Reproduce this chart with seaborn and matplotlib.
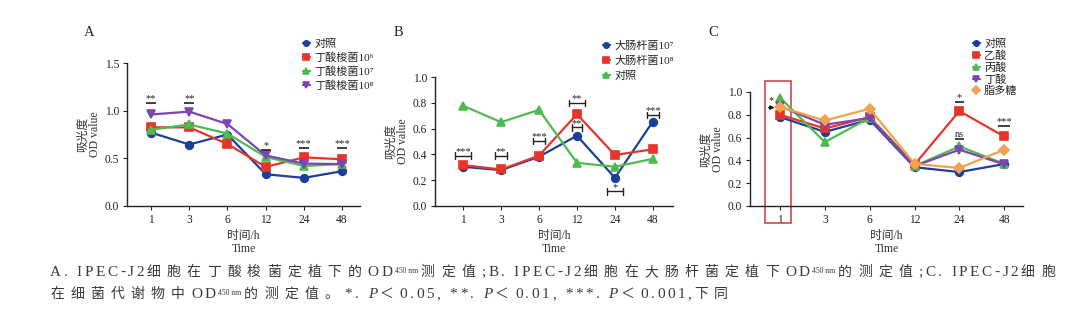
import numpy as np
import pandas as pd
import matplotlib
matplotlib.use("Agg")
import matplotlib.pyplot as plt
import seaborn as sns
from matplotlib.patches import Rectangle
from matplotlib.transforms import IdentityTransform

sns.set_theme(style="ticks")
FAM = ["Liberation Serif", "Noto Sans CJK SC", "DejaVu Serif"]
plt.rcParams["font.family"] = FAM
plt.rcParams["axes.unicode_minus"] = False

# ---------------- data ----------------
times = ["1", "3", "6", "12", "24", "48"]

a_groups = ["对照", "丁酸梭菌10⁶", "丁酸梭菌10⁷", "丁酸梭菌10⁸"]
a_ctrl = [0.77, 0.645, 0.75, 0.333, 0.295, 0.365]
a_cb6 = [0.825, 0.825, 0.65, 0.41, 0.51, 0.49]
a_cb7 = [0.80, 0.855, 0.76, 0.515, 0.42, 0.44]
a_cb8 = [0.96, 0.99, 0.86, 0.53, 0.445, 0.44]

b_groups = ["大肠杆菌10⁷", "大肠杆菌10⁸", "对照"]
b_ec7 = [0.304, 0.278, 0.382, 0.545, 0.218, 0.655]
b_ec8 = [0.317, 0.283, 0.39, 0.712, 0.395, 0.44]
b_ctrl = [0.777, 0.65, 0.745, 0.335, 0.304, 0.366]

c_groups = ["对照", "乙酸", "丙酸", "丁酸", "脂多糖"]
c_ctrl = [0.78, 0.65, 0.757, 0.34, 0.298, 0.368]
c_ace = [0.80, 0.68, 0.78, 0.363, 0.833, 0.61]
c_pro = [0.95, 0.56, 0.775, 0.35, 0.523, 0.37]
c_but = [0.874, 0.713, 0.772, 0.35, 0.494, 0.365]
c_lps = [0.868, 0.75, 0.853, 0.37, 0.333, 0.494]

# significance marks: (time index, label, y of bar[, half width])
a_sig = [(0, "**", 1.08), (1, "**", 1.08), (3, "*", 0.59), (4, "***", 0.61), (5, "***", 0.61)]
b_sig = [(0, "***", 0.39, 0.21), (1, "**", 0.39, 0.15), (2, "***", 0.505, 0.16),
         (3, "**", 0.80, 0.20), (3, "**", 0.61, 0.12), (4, "*", 0.114, 0.22),
         (5, "***", 0.706, 0.15)]
c_sig = [(4, "*", 0.912, 0.10), (4, "ns", 0.585, 0.10), (5, "***", 0.70, 0.13)]

BLUE, RED, GREEN, PURPLE, ORANGE = "#1d3f9a", "#e5352b", "#4dbb4f", "#7d44b2", "#f0a24e"

W, H = 1074, 323
fig = plt.figure(figsize=(W / 100, H / 100), dpi=100)


def px_axes(left, right, top, bottom):
    return fig.add_axes([left / W, 1 - bottom / H, (right - left) / W, (bottom - top) / H])


def long_df(groups, series):
    rows = []
    for g, vals in zip(groups, series):
        for t, v in zip(times, vals):
            rows.append({"time": t, "group": g, "od": v})
    return pd.DataFrame(rows)


def draw_panel(ax, groups, series, colors, markers, ylim, yticks, xlim, leg_xy, leg_sp,
               letter, letter_xy):
    df = long_df(groups, series)
    sns.pointplot(data=df, x="time", y="od", hue="group", order=times, hue_order=groups,
                  palette=colors, markers=markers, linestyles="-", errorbar=None,
                  dodge=False, ax=ax, markersize=5.5, linewidth=1.6)
    ax.set_xlim(*xlim)
    ax.set_ylim(*ylim)
    ax.set_yticks(yticks)
    ax.set_yticklabels([f"{v:.1f}" for v in yticks])
    ax.set_xlabel("时间/h\nTime", fontsize=8.5, labelpad=3, color="#333333", linespacing=1.1)
    ax.set_ylabel("吸光度\nOD value", fontsize=8.5, labelpad=3, color="#333333", linespacing=1.0)
    ax.tick_params(labelsize=8.3, length=3, width=0.8, colors="#222222", pad=2.5)
    for s in ("top", "right"):
        ax.spines[s].set_visible(False)
    for s in ("left", "bottom"):
        ax.spines[s].set_linewidth(1.0)
        ax.spines[s].set_color("#222222")
    handles, labels = ax.get_legend_handles_labels()
    ax.legend(handles, labels, loc="upper left",
              bbox_to_anchor=(leg_xy[0] / W, 1 - leg_xy[1] / H), bbox_transform=fig.transFigure,
              frameon=False, fontsize=8, handlelength=0.6, handletextpad=0.4, markerscale=0.7,
              labelspacing=leg_sp, borderpad=0, borderaxespad=0)
    fig.text(letter_xy[0] / W, 1 - letter_xy[1] / H, letter, fontsize=10.5, va="center", ha="left")


def star_bar(ax, x, label, y, half=0.13, dy=0.0):
    ax.plot([x - half, x + half], [y, y], color="#333333", lw=1.3, solid_capstyle="butt")
    ax.text(x, y + dy, label, ha="center", va="bottom", fontsize=7.5, color="#222222")


def bracket(ax, x, label, y, half, cap):
    ax.plot([x - half, x + half], [y, y], color="#222222", lw=1.0)
    ax.plot([x - half, x - half], [y - cap, y + cap], color="#222222", lw=1.0)
    ax.plot([x + half, x + half], [y - cap, y + cap], color="#222222", lw=1.0)
    ax.text(x, y - cap * 0.2, label, ha="center", va="bottom", fontsize=7.5, color="#222222")


# ---------------- panel A ----------------
axA = px_axes(127, 360, 63, 206)
draw_panel(axA, a_groups, [a_ctrl, a_cb6, a_cb7, a_cb8], [BLUE, RED, GREEN, PURPLE],
           ["o", "s", "^", "v"], (0, 1.5), [0.0, 0.5, 1.0, 1.5], (-0.63, 5.47),
           (303, 39), 0.32, "A", (84, 33))
for i, lab, y in a_sig:
    star_bar(axA, i, lab, y)

# ---------------- panel B ----------------
axB = px_axes(435, 673, 77, 206)
draw_panel(axB, b_groups, [b_ec7, b_ec8, b_ctrl], [BLUE, RED, GREEN],
           ["o", "s", "^"], (0, 1.0), [0.0, 0.2, 0.4, 0.6, 0.8, 1.0], (-0.74, 5.53),
           (603, 41), 0.42, "B", (394, 33))
for i, lab, y, half in b_sig:
    bracket(axB, i, lab, y, half, 0.025)

# ---------------- panel C ----------------
axC = px_axes(750, 1023, 92, 206)
draw_panel(axC, c_groups, [c_ctrl, c_ace, c_pro, c_but, c_lps], [BLUE, RED, GREEN, PURPLE, ORANGE],
           ["o", "s", "^", "v", "D"], (0, 1.0), [0.0, 0.2, 0.4, 0.6, 0.8, 1.0], (-0.67, 5.42),
           (973, 39), 0.12, "C", (708, 33))
for i, lab, y, half in c_sig:
    star_bar(axC, i, lab, y, half)
axC.annotate("", xy=(-0.06, 0.863), xytext=(-0.32, 0.863),
             arrowprops=dict(arrowstyle="-|>", color="#111111", lw=0.9, mutation_scale=6))
axC.text(-0.19, 0.885, "*", ha="center", va="bottom", fontsize=7.5, color="#222222")
axC.add_patch(Rectangle((-0.34, -0.15), 0.58, 1.245, fill=False, edgecolor="#d0484a",
                        lw=1.2, clip_on=False))

# ---------------- caption (letter-spaced) ----------------
renderer = fig.canvas.get_renderer()
CAP = 10
LAT = 11
SUB = 5.5
LAT_EXTRA = 2.6

line1 = [("L", "A. IPEC-J2"), ("C", "细胞在丁酸梭菌定植下的"), ("L", "OD"), ("S", "450 nm"),
         ("C", "测定值"), ("L", ";B. IPEC-J2"), ("C", "细胞在大肠杆菌定植下"), ("L", "OD"),
         ("S", "450 nm"), ("C", "的测定值"), ("L", ";C. IPEC-J2"), ("C", "细胞")]
line2 = [("C", "在细菌代谢物中"), ("L", "OD"), ("S", "450 nm"), ("C", "的测定值。"),
         ("L", "*. "), ("I", "P"), ("C", "＜"), ("L", "0.05, **. "), ("I", "P"), ("C", "＜"),
         ("L", "0.01, ***. "), ("I", "P"), ("C", "＜"), ("L", "0.001,"), ("C", "下同")]


def pieces(tokens):
    out = []
    for kind, s in tokens:
        if kind == "S":
            out.append((kind, s))
        else:
            for ch in s:
                out.append((kind, ch))
    return out


def style_of(kind):
    style = "italic" if kind == "I" else "normal"
    size = {"S": SUB, "C": CAP}.get(kind, LAT)
    return style, size


def char_width(s, kind):
    style, size = style_of(kind)
    if s == " ":
        return size * 100 / 72 * 0.25
    t = fig.text(0, 0, s, fontsize=size, family=FAM, style=style, transform=IdentityTransform())
    w = t.get_window_extent(renderer).width
    t.remove()
    return w


def gap_after(kind, extra):
    return extra if kind == "C" else LAT_EXTRA


def place(tokens, x0, y_base, extra):
    x = x0
    for kind, s in pieces(tokens):
        style, size = style_of(kind)
        w = char_width(s, kind)
        if s != " ":
            yy = y_base - (3 if kind == "S" else 0)
            fig.text(x, H - yy, s, fontsize=size, family=FAM, style=style, color="#3a3a3a",
                     transform=IdentityTransform(), ha="left", va="baseline")
        x += w + gap_after(kind, extra)


p1 = pieces(line1)
nat1 = sum(char_width(s, k) for k, s in p1)
n_cjk = sum(1 for k, s in p1[:-1] if k == "C")
n_lat = len(p1) - 1 - n_cjk
extra = (1055 - 50 - nat1 - n_lat * LAT_EXTRA) / n_cjk
place(line1, 50, 276, extra)
place(line2, 50, 298, extra)

fig.savefig("out.png", dpi=100)
